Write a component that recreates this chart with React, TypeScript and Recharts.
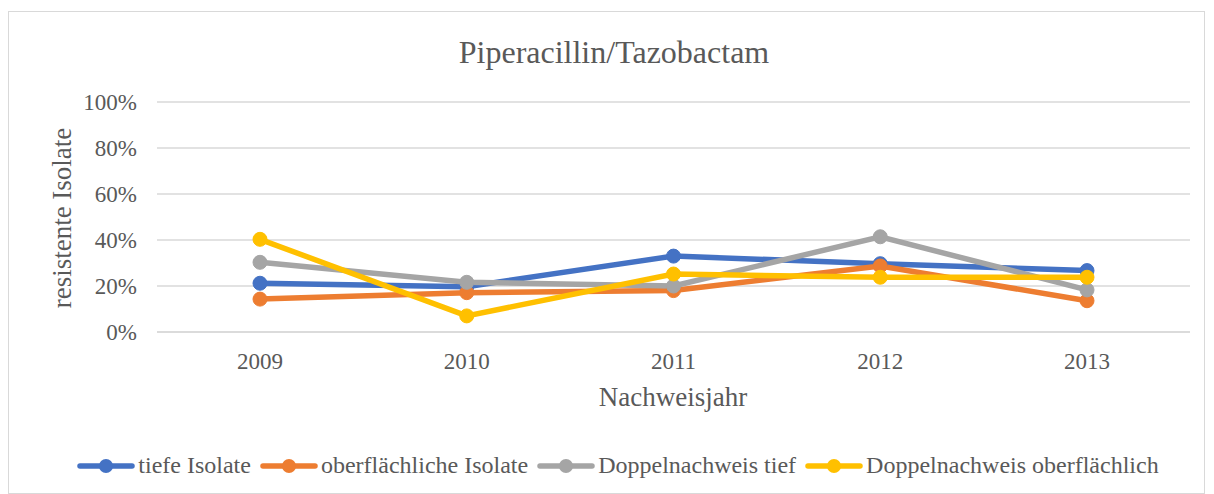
import { LineChart, Line, XAxis, YAxis, CartesianGrid, Legend } from "recharts";

const years = ["2009", "2010", "2011", "2012", "2013"];
const tiefeIsolate = [21.2, 19.7, 33, 29.7, 26.7];
const oberflaechlicheIsolate = [14.3, 17.1, 18, 28.7, 13.6];
const doppelTief = [30.3, 21.6, 20, 41.4, 18.3];
const doppelOberflaechlich = [40.3, 7, 25.2, 23.8, 23.8];
const yTicks = [0, 20, 40, 60, 80, 100];

const series = [
  { key: "tief", name: "tiefe Isolate", color: "#4472C4", values: tiefeIsolate },
  { key: "oberfl", name: "oberflächliche Isolate", color: "#ED7D31", values: oberflaechlicheIsolate },
  { key: "dtief", name: "Doppelnachweis tief", color: "#A5A5A5", values: doppelTief },
  { key: "doberfl", name: "Doppelnachweis oberflächlich", color: "#FFC000", values: doppelOberflaechlich },
];

const data = years.map((year, i) => {
  const row: Record<string, string | number> = { year };
  series.forEach((s) => (row[s.key] = s.values[i]));
  return row;
});

const FONT = "'Liberation Serif', 'Times New Roman', serif";
const TEXT = "#595959";

function LegendContent() {
  return (
    <div style={{ display: "flex", justifyContent: "center", alignItems: "center", fontFamily: FONT, fontSize: 24, color: TEXT }}>
      {series.map((s) => (
        <div key={s.key} style={{ display: "flex", alignItems: "center", marginRight: 9 }}>
          <svg width={58} height={16} style={{ marginRight: 3 }}>
            <line x1={3} y1={8} x2={55} y2={8} stroke={s.color} strokeWidth={5.5} strokeLinecap="round" />
            <circle cx={29} cy={8} r={7} fill={s.color} />
          </svg>
          <span>{s.name}</span>
        </div>
      ))}
    </div>
  );
}

export default function App() {
  return (
    <div
      style={{
        position: "absolute",
        left: 8,
        top: 11,
        width: 1195,
        height: 481,
        border: "1px solid #d9d9d9",
        background: "#fff",
      }}
    >
      <div
        style={{
          position: "absolute",
          top: 24,
          left: 0,
          width: 1210,
          textAlign: "center",
          fontFamily: FONT,
          fontSize: 32,
          lineHeight: "32px",
          color: TEXT,
        }}
      >
        Piperacillin/Tazobactam
      </div>
      <LineChart width={1195} height={481} data={data} margin={{ top: 90, right: 14, left: 0, bottom: 91 }}>
        <CartesianGrid vertical={false} stroke="#d9d9d9" strokeWidth={1.5} />
        <XAxis
          dataKey="year"
          height={70}
          padding={{ left: 103, right: 103 }}
          axisLine={{ stroke: "#d9d9d9", strokeWidth: 1.5 }}
          tickLine={false}
          tickMargin={15}
          tick={{ fill: TEXT, fontSize: 23, fontFamily: FONT }}
          label={{
            content: () => (
              <text x={664} y={385} textAnchor="middle" dominantBaseline="central" fill={TEXT} fontSize={27} fontFamily={FONT}>
                Nachweisjahr
              </text>
            ),
          }}
        />
        <YAxis
          width={148}
          domain={[0, 100]}
          ticks={yTicks}
          tickFormatter={(v) => `${v}%`}
          axisLine={false}
          tickLine={false}
          tickMargin={14}
          tick={{ fill: TEXT, fontSize: 23, fontFamily: FONT }}
          label={{
            content: () => (
              <text
                x={53}
                y={206}
                transform="rotate(-90 53 206)"
                textAnchor="middle"
                dominantBaseline="central"
                fill={TEXT}
                fontSize={27}
                fontFamily={FONT}
              >
                resistente Isolate
              </text>
            ),
          }}
        />
        <Legend
          verticalAlign="middle"
          align="center"
          layout="horizontal"
          content={LegendContent}
          wrapperStyle={{ top: 440, left: 16, width: 1195 }}
        />
        {series.map((s) => (
          <Line
            key={s.key}
            dataKey={s.key}
            name={s.name}
            type="linear"
            stroke={s.color}
            strokeWidth={5.5}
            dot={{ r: 7, fill: s.color, stroke: s.color, strokeWidth: 1 }}
            activeDot={false}
            isAnimationActive={false}
          />
        ))}
      </LineChart>
    </div>
  );
}
